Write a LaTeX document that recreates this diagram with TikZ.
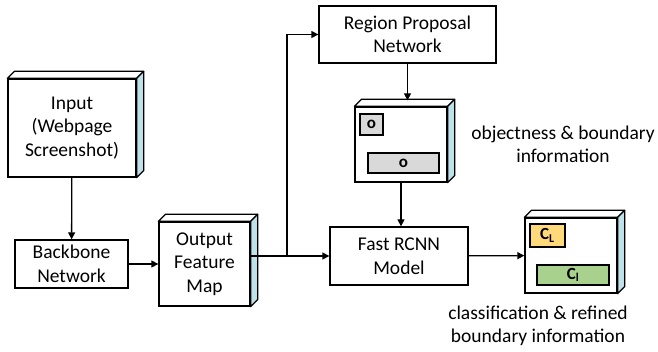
\documentclass[tikz,border=0pt]{standalone}
\usepackage{fontspec}
\setmainfont{Carlito}
\usetikzlibrary{arrows.meta}
\definecolor{sidecyan}{HTML}{BFE2EA}
\definecolor{tagfill}{HTML}{D9D9D9}
\definecolor{clsfill}{HTML}{FFD97A}
\definecolor{regfill}{HTML}{A9D18E}
\begin{document}
\begin{tikzpicture}[x=1pt, y=-1pt,
  box/.style={rectangle, draw, line width=1.3pt, fill=white, align=center, inner sep=0pt, font=\fontsize{19.5}{23.5}\selectfont},
  tag/.style={rectangle, draw, line width=1.1pt, inner sep=0pt, font=\fontsize{17}{20}\selectfont\bfseries},
  note/.style={align=center, font=\fontsize{19.5}{23}\selectfont},
  e/.style={-{Triangle[length=7pt,width=7pt]}, line width=1.3pt},
  topface/.style={draw, line width=1.3pt, fill=white, line join=round},
  sideface/.style={draw, line width=1.3pt, fill=sidecyan, line join=round}
]
\useasboundingbox (0,0) rectangle (658,352);

\node[box, minimum width=128, minimum height=98] (inp) at (72,128) {Input\\(Webpage\\Screenshot)};
\node[box, minimum width=113, minimum height=48] (bb) at (71.5,264) {Backbone\\Network};
\node[box, minimum width=91, minimum height=84] (ofm) at (204.5,264) {Output\\Feature\\Map};
\node[box, minimum width=177, minimum height=57] (rpn) at (407.5,34.5) {Region Proposal\\Network};
\node[box, minimum width=92, minimum height=75] (obj) at (401,144.5) {};
\node[box, minimum width=138, minimum height=58] (frc) at (399,256) {Fast RCNN\\Model};
\node[box, minimum width=92, minimum height=75] (cls) at (571,255.5) {};

% boxes inside the outputs
\node[tag, fill=tagfill, minimum width=23, minimum height=21] (o1) at (371.5,124.5) {o};
\node[tag, fill=tagfill, minimum width=71, minimum height=20] (o2) at (403.5,163) {o};
\node[tag, fill=clsfill, minimum width=35, minimum height=23] (cL) at (547.5,235.5) {C\textsubscript{L}};
\node[tag, fill=regfill, minimum width=72, minimum height=20] (cl) at (573,275) {C\textsubscript{l}};

\node[note] (objtxt) at (563,144) {objectness \& boundary\\information};
\node[note] (clstxt) at (538,326) {classification \& refined\\boundary information};

% 3d faces
\foreach \n in {inp, ofm, obj, cls} {
  \draw[topface] (\n.north west) -- ++(7,-7) -- ([shift={(7,-7)}]\n.north east) -- (\n.north east) -- cycle;
  \draw[sideface] (\n.north east) -- ++(7,-7) -- ([shift={(7,-7)}]\n.south east) -- (\n.south east) -- cycle;
}

\coordinate (br) at (287,256);
\coordinate (objtop) at ([yshift=6pt]obj.north);
\draw[e] (inp) -- (bb);
\draw[e] (bb) -- (ofm);
\draw[e] (ofm.east |- br) -- (br) -- (frc.west);
\draw[e] (br) |- (rpn.west);
\draw[e] (rpn.south) -- (rpn.south |- objtop);
\draw[e] (obj.south) -- (obj.south |- frc.north);
\draw[e] (frc) -- (cls);
\end{tikzpicture}
\end{document}
